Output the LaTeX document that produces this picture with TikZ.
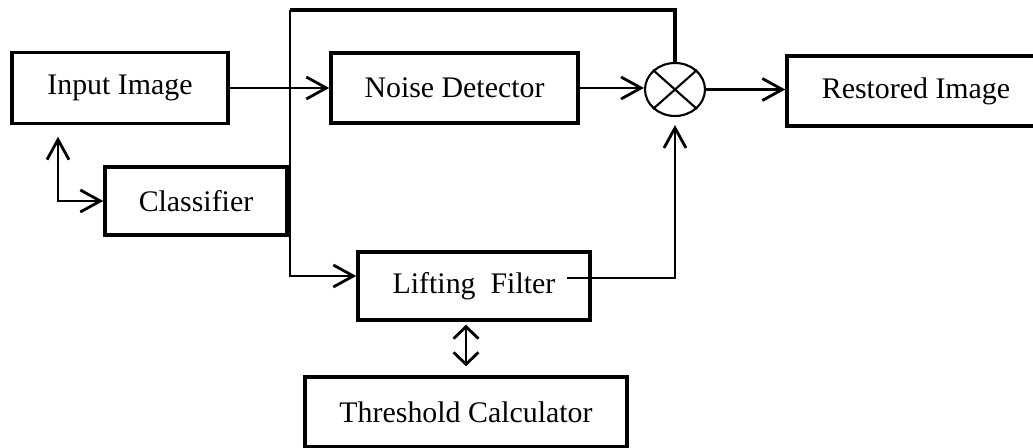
\documentclass[tikz,border=0pt]{standalone}
\usepackage{fontspec}
\setmainfont{Liberation Serif}
\usetikzlibrary{arrows.meta, shapes.geometric, positioning}

\begin{document}
\begin{tikzpicture}[>={Straight Barb[length=4mm,width=4.4mm]},
    box/.style={draw, line width=2pt, inner sep=0pt, font=\fontsize{17}{20}\selectfont},
    wire/.style={line width=1.6pt}]
    \useasboundingbox (0,0) rectangle (20.66,8.96);
    % 1. Các khối
    \node[box, minimum width=4.32cm, minimum height=1.42cm] (inp) at (2.4,7.2) {Input Image};
    \node[box, minimum width=3.64cm, minimum height=1.36cm] (cls) at (3.92,4.94) {Classifier};
    \node[box, minimum width=4.94cm, minimum height=1.4cm] (noise) at (9.09,7.2) {Noise Detector};
    \node[draw, ellipse, line width=1.2pt, minimum width=1.2cm, minimum height=1.06cm] (mult) at (13.5,7.17) {};
    \draw[line width=1.2pt] (mult.north west) -- (mult.south east);
    \draw[line width=1.2pt] (mult.south west) -- (mult.north east);
    \node[box, minimum width=5.16cm, minimum height=1.4cm] (rest) at (18.32,7.14) {Restored Image};
    \node[box, minimum width=4.64cm, minimum height=1.36cm] (lift) at (9.48,3.24) {Lifting\ \ Filter};
    \node[box, minimum width=6.44cm, minimum height=1.4cm] (thr) at (9.32,0.72) {Threshold Calculator};

    % 2. Các điểm nối
    \coordinate (sp) at (5.8,7.2);
    \coordinate (top) at (5.8,8.76);
    \coordinate (lo) at (11.34,3.4);
    \coordinate (cx) at (1.16,0);

    % 3. Các mũi tên
    \draw[wire, ->] (inp.east |- sp) -- (noise.west);
    \draw[wire, ->] (top) |- ([yshift=0.2cm]lift.west);
    \draw[line width=2.6pt] (top) -| (mult.north);
    \draw[wire, ->] (noise.east) -- (noise.east -| mult.west);
    \draw[wire, ->] (mult.east) -- (mult.east -| rest.west);
    \draw[wire, ->, shorten >=0.16cm] (lo) -| (mult.south);
    \draw[wire, <->, shorten <=0.23cm] (inp.south -| cx) |- (cls.west);
    \draw[wire, {Straight Barb[length=2.4mm,width=5mm]}-{Straight Barb[length=2.4mm,width=5mm]}, shorten <=0.06cm, shorten >=0.18cm] (thr.north |- lift.south) -- (thr.north);
\end{tikzpicture}
\end{document}
